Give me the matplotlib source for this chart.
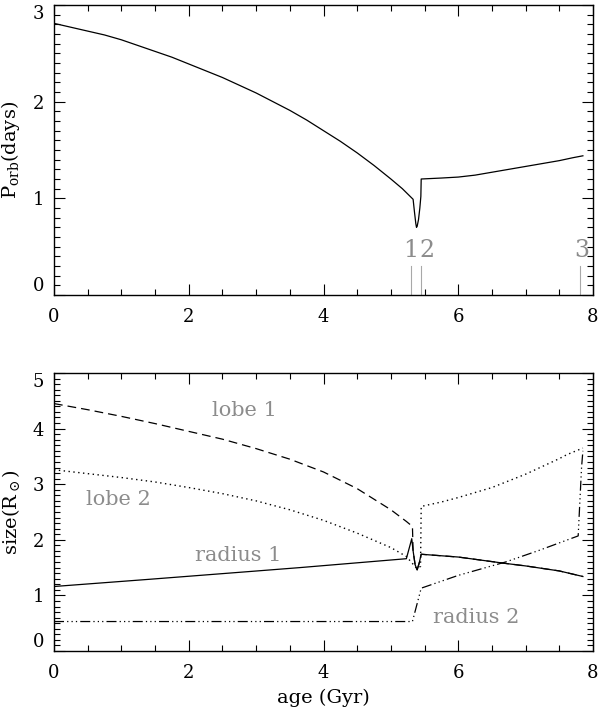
#!/usr/bin/env python

import matplotlib
matplotlib.use("Agg")
import matplotlib.pyplot as plt
from matplotlib.ticker import MultipleLocator

# orbital period (top panel)
age_p = [0.0, 0.25, 0.5, 0.75, 1.0, 1.25, 1.5, 1.75, 2.0, 2.25, 2.5, 2.75,
         3.0, 3.25, 3.5, 3.75, 4.0, 4.25, 4.5, 4.75, 5.0, 5.17, 5.33,
         5.35, 5.37, 5.38, 5.39, 5.41, 5.43, 5.445, 5.45,
         5.75, 6.0, 6.25, 6.5, 6.75, 7.0, 7.25, 7.5, 7.7, 7.85]
porb = [2.81, 2.77, 2.73, 2.69, 2.64, 2.58, 2.52, 2.46, 2.39, 2.32, 2.25, 2.17,
        2.09, 2.00, 1.91, 1.81, 1.70, 1.59, 1.47, 1.34, 1.20, 1.10, 0.99,
        0.86, 0.74, 0.70, 0.71, 0.78, 0.90, 1.02, 1.20,
        1.21, 1.22, 1.24, 1.27, 1.30, 1.33, 1.36, 1.39, 1.42, 1.44]
event_age = [5.30, 5.45, 7.80]
event_lab = ["1", "2", "3"]
event_lab_x = [5.29, 5.53, 7.83]

# sizes (bottom panel)
age_l1 = [0.0, 0.5, 1.0, 1.5, 2.0, 2.5, 3.0, 3.5, 4.0, 4.5, 5.0, 5.23, 5.32,
          5.33, 5.36, 5.39, 5.42, 5.45, 6.0, 6.67, 7.0, 7.5, 7.85]
lobe1 = [4.45, 4.34, 4.22, 4.09, 3.95, 3.81, 3.64, 3.45, 3.22, 2.92, 2.54,
         2.33, 2.24, 1.80, 1.55, 1.46, 1.58, 1.74, 1.69, 1.58, 1.53, 1.44, 1.34]

age_l2 = [0.0, 0.5, 1.0, 1.5, 2.0, 2.5, 3.0, 3.5, 4.0, 4.5, 5.0, 5.23, 5.38,
          5.44, 5.45, 5.75, 6.0, 6.5, 7.0, 7.5, 7.61, 7.85]
lobe2 = [3.26, 3.19, 3.12, 3.04, 2.94, 2.83, 2.70, 2.54, 2.35, 2.12, 1.86,
         1.70, 1.49, 1.52, 2.60, 2.68, 2.76, 2.94, 3.18, 3.46, 3.53, 3.65]

age_r1 = [0.0, 1.42, 2.91, 3.65, 5.23, 5.31, 5.33, 5.36, 5.39, 5.42, 5.45,
          6.0, 6.67, 7.0, 7.5, 7.85]
rad1 = [1.16, 1.29, 1.43, 1.50, 1.66, 2.02, 1.80, 1.55, 1.46, 1.58, 1.74,
        1.69, 1.58, 1.53, 1.44, 1.34]

age_r2 = [0.0, 5.32, 5.45, 6.0, 6.7, 7.2, 7.78, 7.83, 7.85]
rad2 = [0.53, 0.53, 1.13, 1.36, 1.60, 1.81, 2.07, 3.3, 3.6]

plt.rc("font", family="DejaVu Serif", size=13)
plt.rc("mathtext", fontset="dejavuserif")

grey = "#8c8c8c"


def style_axes(ax, ymax):
    ax.set_xlim(0, 8)
    ax.set_ylim(0, ymax)
    ax.xaxis.set_major_locator(MultipleLocator(2))
    ax.xaxis.set_minor_locator(MultipleLocator(0.5))
    ax.yaxis.set_major_locator(MultipleLocator(1))
    ax.yaxis.set_minor_locator(MultipleLocator(0.1))
    ax.tick_params(which="both", direction="in", top=True, right=True,
                   width=0.8, labelsize=13, pad=7)
    ax.tick_params(axis="x", pad=9)
    ax.tick_params(which="major", length=8)
    ax.tick_params(which="minor", length=4)
    for s in ax.spines.values():
        s.set_linewidth(1.0)
    ax.set_yticks(range(ymax + 1), [str(v) for v in range(ymax + 1)])
    labs = ax.get_yticklabels()
    labs[0].set_va("bottom")
    labs[-1].set_va("top")


fig = plt.figure(figsize=(6, 7.07), dpi=100)
ax1 = fig.add_axes([54 / 600, 1 - 295 / 707, 539 / 600, 290 / 707])
ax2 = fig.add_axes([54 / 600, 1 - 651 / 707, 539 / 600, 278 / 707])

# top panel
ax1.plot(age_p, porb, color="black", lw=0.9)
for a, lab, lx in zip(event_age, event_lab, event_lab_x):
    ax1.plot([a, a], [0, 0.30], color="#a8a8a8", lw=0.8)
    ax1.text(lx, 0.465, lab, color=grey, fontsize=17, ha="center", va="center")
style_axes(ax1, 3)
ax1.set_ylabel(r"P$_{\rm orb}$(days)", fontsize=14, labelpad=8)

# bottom panel
ax2.plot(age_r1, rad1, color="black", lw=0.9)
ax2.plot(age_l1, lobe1, color="black", lw=0.9, dashes=(7, 4))
ax2.plot(age_l2, lobe2, color="black", lw=1.0, dashes=(1, 2.5))
ax2.plot(age_r2, rad2, color="black", lw=0.9,
         dashes=(8, 2.5, 1, 2.5, 1, 2.5, 1, 2.5))
ax2.text(2.83, 4.33, "lobe 1", color=grey, fontsize=15, ha="center", va="center")
ax2.text(0.95, 2.72, "lobe 2", color=grey, fontsize=15, ha="center", va="center")
ax2.text(2.73, 1.71, "radius 1", color=grey, fontsize=15, ha="center", va="center")
ax2.text(6.26, 0.61, "radius 2", color=grey, fontsize=15, ha="center", va="center")
style_axes(ax2, 5)
ax2.set_ylabel(r"size(R$_\odot$)", fontsize=14, labelpad=8)
ax2.set_xlabel("age (Gyr)", fontsize=14, labelpad=5)

fig.savefig("out.png", dpi=100)
